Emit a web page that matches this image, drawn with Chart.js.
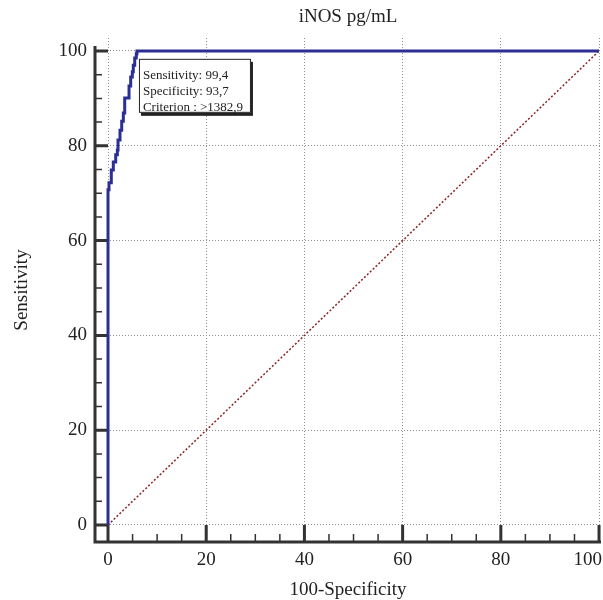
<!DOCTYPE html>
<html>
<head>
<meta charset="utf-8">
<script src="https://cdn.jsdelivr.net/npm/chart.js@4.4.1/dist/chart.umd.min.js"></script>
<style>
  html, body { margin: 0; padding: 0; background: #fff; }
  #wrap { width: 603px; height: 600px; }
</style>
</head>
<body>
<div id="wrap"><canvas id="rocChart"></canvas></div>
<script>
// ROC curve (100-Specificity vs Sensitivity)
const fpr = [0, 0, 0.2, 0.67, 1.08, 1.57, 1.9, 2.04, 2.44, 2.79, 3.12, 3.4, 4.28, 4.62, 4.95, 5.15, 5.44, 5.76, 5.9, 100];
const sens = [0, 70.7, 72.2, 74.9, 76.6, 78.1, 79.1, 81.2, 83.3, 85.2, 86.9, 90.1, 92.6, 94.5, 95.6, 97.0, 98.5, 99.4, 100, 100];
const refX = [0, 100];
const refY = [0, 100];
const tickValues = [0, 20, 40, 60, 80, 100];
const boxLines = ['Sensitivity: 99,4', 'Specificity: 93,7', 'Criterion : >1382,9'];
const criterion = { x: 6.3, y: 99.4 };

const serif = '"Liberation Serif", "DejaVu Serif", serif';
const ink = '#222';

const rocPoints = fpr.map((x, i) => ({ x, y: sens[i] }));
const refPoints = refX.map((x, i) => ({ x, y: refY[i] }));

// spines with inward ticks, detached from the zero lines
const axesPlugin = {
    id: 'axesPlugin',
    beforeDatasetsDraw(chart) {
        const { ctx, chartArea } = chart;
        const xs = chart.scales.x, ys = chart.scales.y;
        const x0 = chartArea.left, y0 = chartArea.bottom;
        ctx.save();
        ctx.strokeStyle = '#333';
        ctx.lineCap = 'butt';
        for (let v = 0; v <= 100; v += 5) {
            const major = v % 20 === 0;
            ctx.lineWidth = major ? 3 : 1.5;
            const px = xs.getPixelForValue(v);
            const py = ys.getPixelForValue(v);
            const lx = major ? ys.getPixelForValue(0) : y0 - 8;
            const ly = major ? xs.getPixelForValue(0) : x0 + 7;
            ctx.beginPath();
            ctx.moveTo(px, y0); ctx.lineTo(px, lx);
            ctx.moveTo(x0, py); ctx.lineTo(ly, py);
            ctx.stroke();
        }
        ctx.lineWidth = 3;
        ctx.beginPath();
        ctx.moveTo(x0, chartArea.top + 8);
        ctx.lineTo(x0, y0);
        ctx.lineTo(chartArea.right, y0);
        ctx.stroke();

        // last x label would run off the canvas; keep it inside like the original
        const last = tickValues[tickValues.length - 1];
        ctx.fillStyle = ink;
        ctx.font = '19px ' + serif;
        ctx.textAlign = 'right';
        ctx.textBaseline = 'middle';
        ctx.fillText(String(last), chart.width - 1, y0 + 18);
        ctx.restore();
    },
    afterDatasetsDraw(chart) {
        const { ctx } = chart;
        const left = chart.scales.x.getPixelForValue(criterion.x);
        const top = chart.scales.y.getPixelForValue(criterion.y) + 5;
        const w = 112, h = 54;
        ctx.save();
        ctx.fillStyle = '#222';
        ctx.fillRect(left + 2, top + 3, w, h);
        ctx.fillStyle = '#fff';
        ctx.fillRect(left, top, w, h);
        ctx.strokeStyle = '#222';
        ctx.lineWidth = 1;
        ctx.strokeRect(left + 0.5, top + 0.5, w - 1, h - 1);
        ctx.fillStyle = ink;
        ctx.font = '13px ' + serif;
        ctx.textBaseline = 'middle';
        boxLines.forEach((t, i) => ctx.fillText(t, left + 4, top + 17 + i * 16));
        ctx.restore();
    }
};

const fixTicks = (scale) => {
    scale.ticks = tickValues.map(v => ({ value: v }));
};

new Chart(document.getElementById('rocChart'), {
    type: 'scatter',
    data: {
        datasets: [
            {
                data: rocPoints,
                xAxisID: 'x',
                yAxisID: 'y',
                showLine: true,
                stepped: 'before',
                borderColor: '#2b2f93',
                borderWidth: 3,
                pointRadius: 0,
                borderJoinStyle: 'miter',
                order: 1
            },
            {
                data: refPoints,
                xAxisID: 'x',
                yAxisID: 'y',
                showLine: true,
                borderColor: '#8b2323',
                borderWidth: 1.5,
                borderDash: [2, 2],
                pointRadius: 0,
                order: 2
            }
        ]
    },
    options: {
        responsive: true,
        maintainAspectRatio: false,
        animation: false,
        layout: { padding: { left: 0, right: 2, top: 0, bottom: 0 } },
        plugins: {
            legend: { display: false },
            tooltip: { enabled: false }
        },
        scales: {
            x: {
                type: 'linear',
                min: -2.65,
                max: 100.4,
                afterBuildTicks: fixTicks,
                afterFit: (s) => { s.height = 58; s.paddingLeft = 0; s.paddingRight = 0; },
                border: { display: false, dash: [1, 2] },
                grid: { color: '#8f8f8f', lineWidth: 1, drawTicks: false },
                ticks: {
                    color: (c) => c.index === tickValues.length - 1 ? 'rgba(0,0,0,0)' : ink,
                    padding: 7,
                    maxRotation: 0,
                    font: { family: serif, size: 19 },
                    callback: (v) => v
                },
                title: {
                    display: true,
                    text: '100-Specificity',
                    color: ink,
                    font: { family: serif, size: 19, lineHeight: 1.1 },
                    padding: { top: 0, bottom: 0 }
                }
            },
            y: {
                type: 'linear',
                min: -3.59,
                max: 102.74,
                afterBuildTicks: fixTicks,
                afterFit: (s) => { s.width = 95; },
                border: { display: false, dash: [1, 2] },
                grid: { color: '#8f8f8f', lineWidth: 1, drawTicks: false },
                ticks: {
                    color: ink,
                    padding: 8,
                    font: { family: serif, size: 19 },
                    callback: (v) => v
                },
                title: {
                    display: true,
                    text: 'Sensitivity',
                    color: ink,
                    font: { family: serif, size: 19 },
                    padding: { top: 11, bottom: 0 }
                }
            },
            top: {
                type: 'linear',
                axis: 'x',
                position: 'top',
                min: 0,
                max: 1,
                afterFit: (s) => { s.height = 38; s.paddingLeft = 0; s.paddingRight = 0; },
                border: { display: false },
                grid: { display: false, drawTicks: false },
                ticks: { display: false },
                title: {
                    display: true,
                    text: 'iNOS pg/mL',
                    color: ink,
                    font: { family: serif, size: 19 },
                    padding: { top: 6, bottom: 0 }
                }
            }
        }
    },
    plugins: [axesPlugin]
});
</script>
</body>
</html>
